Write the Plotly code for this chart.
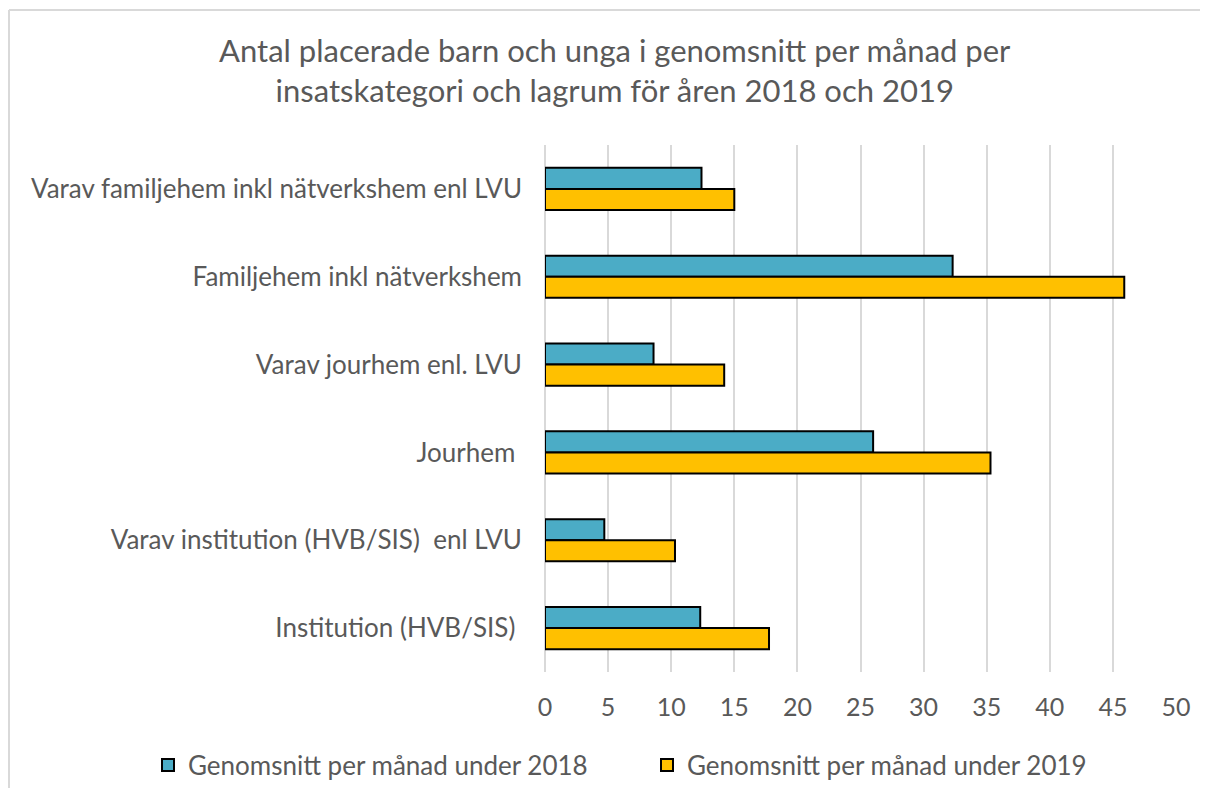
import plotly.graph_objects as go

categories = [
    "Varav familjehem inkl nätverkshem enl LVU",
    "Familjehem inkl nätverkshem",
    "Varav jourhem enl. LVU",
    "Jourhem ",
    "Varav institution (HVB/SIS)  enl LVU",
    "Institution (HVB/SIS) ",
]
values_2018 = [12.4, 32.3, 8.6, 26.0, 4.7, 12.3]
values_2019 = [15.0, 45.9, 14.2, 35.3, 10.3, 17.75]
series_names = ["Genomsnitt per månad under 2018", "Genomsnitt per månad under 2019"]
x_ticks = [0, 5, 10, 15, 20, 25, 30, 35, 40, 45, 50]

FONT = "Lato"
TXT = "#595959"

W, H = 1192, 780
L, R, T, B = 537, 24, 137, 116
PH = H - T - B
PW = W - L - R

fig = go.Figure()
fig.add_trace(go.Bar(
    y=categories, x=values_2018, name=series_names[0], orientation="h",
    marker=dict(color="#4BACC6", line=dict(color="#000000", width=2)),
    legend="legend",
))
fig.add_trace(go.Bar(
    y=categories, x=values_2019, name=series_names[1], orientation="h",
    marker=dict(color="#FFC000", line=dict(color="#000000", width=2)),
    legend="legend2",
))

leg_y = (PH - (757 - T)) / PH
legend_common = dict(
    orientation="h", xanchor="left", xref="container",
    y=leg_y, yanchor="middle",
    font=dict(family=FONT, size=26, color=TXT),
    itemwidth=30, bgcolor="rgba(0,0,0,0)",
)

fig.update_layout(
    width=W, height=H,
    paper_bgcolor="white", plot_bgcolor="white",
    margin=dict(l=L, r=R, t=T, b=B, autoexpand=False),
    barmode="group", bargap=0.52, bargroupgap=0,
    font=dict(family=FONT, color=TXT, size=26),
    title=dict(
        text="Antal placerade barn och unga i genomsnitt per månad per<br>insatskategori och lagrum för åren 2018 och 2019",
        x=0.509, xanchor="center", xref="container", y=1 - 54 / H, yanchor="top",
        font=dict(family=FONT, size=31, color=TXT),
    ),
    legend=dict(x=140 / W, **legend_common),
    legend2=dict(x=639 / W, **legend_common),
    showlegend=True,
)
fig.update_xaxes(
    range=[0, 50], tickvals=x_ticks, showgrid=True, gridcolor="#D9D9D9", gridwidth=2,
    zeroline=True, zerolinecolor="#D9D9D9", zerolinewidth=2,
    showline=False, ticks="", tickfont=dict(size=25, color=TXT), automargin=False,
    ticklabelstandoff=18,
)
fig.update_yaxes(
    autorange="reversed", showgrid=False, ticks="", ticklabelstandoff=22,
    tickfont=dict(size=26, color=TXT), automargin=False,
)
fig.add_shape(type="line", xref="paper", yref="paper",
              x0=(1 - L) / PW, x1=1.2, y0=(PH + T - 2) / PH, y1=(PH + T - 2) / PH,
              line=dict(color="#D9D9D9", width=2))
fig.add_shape(type="line", xref="paper", yref="paper",
              x0=(1 - L) / PW, x1=(1 - L) / PW, y0=(PH + T - 2) / PH, y1=-0.3,
              line=dict(color="#D9D9D9", width=2))

fig.write_html("out.html")
